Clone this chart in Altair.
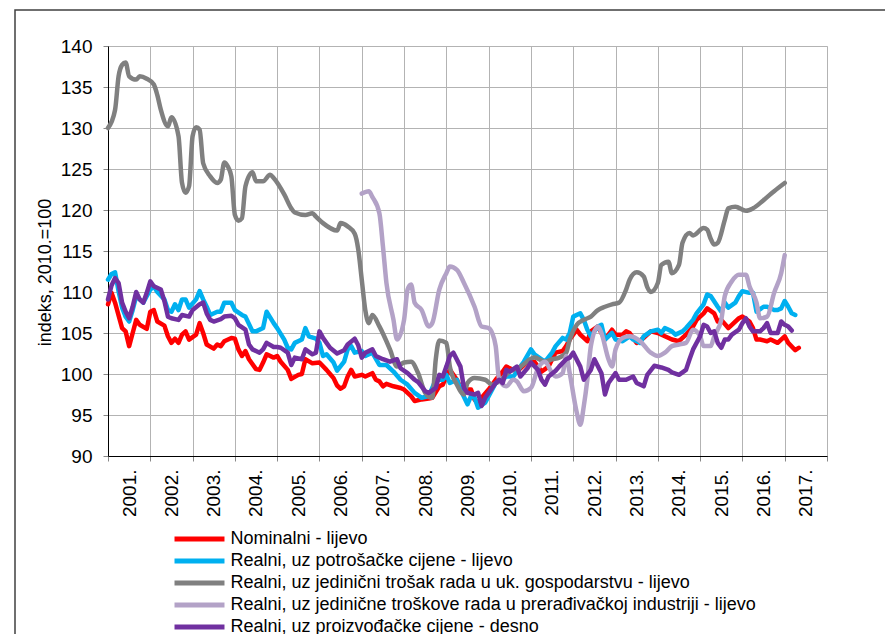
import altair as alt
import pandas as pd

NAMES = [
    "Nominalni - lijevo",
    "Realni, uz potrošačke cijene - lijevo",
    "Realni, uz jedinični trošak rada u uk. gospodarstvu - lijevo",
    "Realni, uz jedinične troškove rada u prerađivačkoj industriji - lijevo",
    "Realni, uz proizvođačke cijene - desno",
]
COLORS = ["#FF0000", "#00B0F0", "#808080", "#B3A2C7", "#7030A0"]
YEARS = list(range(2001, 2019))
Y_TICKS = list(range(90, 141, 5))

# month index 0 = Jan 2001
RED_M = [0, 1, 2, 4, 5, 6, 7, 8, 9, 11, 12, 13, 14, 16, 17, 18, 19, 20, 21, 22, 23, 25, 26, 27, 28, 30, 31, 32, 33, 35,
         36, 37, 38, 39, 40, 42, 43, 44, 45, 47, 48, 49, 51, 52, 54, 55, 56, 58, 60, 62, 63, 64, 65, 66, 67, 68, 69, 70,
         72, 73, 75, 76, 77, 78, 79, 81, 83, 84, 86, 87, 89, 91, 92, 94, 95, 96, 97, 99, 100, 102, 103, 104, 105, 106,
         108, 110, 112, 113, 114, 116, 118, 119, 121, 122, 123, 125, 126, 127, 129, 130, 131, 133, 134, 136, 137, 139,
         140, 141, 143, 144, 146, 147, 148, 150, 152, 154, 156, 158, 160, 162, 164, 166, 167, 169, 170, 172, 173, 174,
         176, 177, 179, 180, 182, 183, 184, 185, 187, 188, 190, 191, 192, 193, 195, 196]
RED_V = [108.5, 109.9, 108.7, 105.6, 105.2, 103.4, 105.0, 106.6, 106.0, 105.5, 107.6, 107.8, 106.4, 105.9, 104.6, 103.8,
         104.3, 103.8, 104.8, 105.2, 104.2, 104.8, 106.2, 105.0, 103.6, 103.1, 103.6, 103.4, 104.0, 104.4,
         104.3, 103.0, 102.2, 102.8, 101.8, 100.6, 100.5, 101.4, 102.4, 102.0, 102.2, 101.5, 100.5, 99.4, 99.9, 100.0,
         101.8, 101.3, 101.4, 100.5, 100.0, 99.5, 98.6, 98.2, 98.5, 99.7, 100.5, 99.7,
         99.9, 99.7, 100.1, 99.3, 99.1, 98.5, 98.8, 98.5, 98.3, 98.1, 97.3, 96.7, 96.9, 97.0, 97.1, 98.5, 98.7, 99.7,
         100.5, 99.3, 98.3, 98.1, 98.1, 96.9, 96.4, 97.1,
         98.1, 99.3, 100.3, 100.9, 100.7, 100.3, 101.1, 101.5, 101.5, 100.9, 100.3, 100.9, 101.8, 102.6, 102.8, 103.4,
         104.2, 105.4, 104.8, 104.0, 105.2, 105.8,
         105.0, 104.2, 105.4, 104.8, 104.8, 105.2, 105.0, 103.8, 104.4, 105.2, 105.0, 104.6, 104.2, 104.0, 104.8, 105.8,
         106.6, 107.4, 108.0, 107.4, 106.4, 106.6,
         105.6, 106.0, 106.8, 107.0, 106.4, 105.6, 104.2, 104.2, 104.0, 104.2, 103.8, 104.2, 104.6, 103.8, 102.9, 103.2]

CYAN_M = [0, 1, 2, 3, 4, 5, 6, 7, 8, 9, 10, 12, 13, 14, 16, 17, 18, 19, 20, 21, 22, 23, 25, 26, 27, 28, 29, 31, 32, 33,
          35, 36, 38, 39, 41, 42, 44, 45, 47, 48, 50, 51, 52, 53, 55, 56, 57, 59, 60, 61, 62, 64, 65, 67, 68, 69, 70,
          72, 73, 75, 77, 79, 81, 83, 85, 87, 89, 91, 93, 95, 96, 97, 99, 100, 102, 103, 104, 105, 107, 108, 110, 112,
          113, 115, 117, 118, 120, 121, 123, 124, 126, 127, 129, 130, 131, 132, 134, 135, 136, 137, 139, 140, 141, 143,
          144, 146, 148, 149, 151, 152, 154, 156, 157, 158, 160, 161, 163, 164, 166, 167, 169, 170, 171, 173, 174, 175,
          176, 178, 179, 180, 182, 183, 184, 186, 187, 189, 190, 191, 192, 193, 194, 195]
CYAN_V = [111.5, 112.2, 112.4, 110.1, 108.1, 107.0, 106.4, 107.8, 109.5, 109.1, 108.7, 110.3, 110.7, 110.0, 109.1,
          107.8, 107.6, 108.5, 107.8, 109.1, 109.1, 108.1, 109.1, 110.1, 109.1, 108.2, 107.2, 107.6, 107.6, 108.7,
          108.7, 107.8, 107.2, 107.0, 105.2, 105.2, 105.6, 107.6, 106.2, 105.6, 104.2, 103.2, 103.0, 103.8, 104.2,
          105.6, 104.6, 104.3, 103.8, 102.2, 102.4, 101.4, 100.4, 101.5, 103.0, 103.4, 102.6,
          102.8, 102.2, 102.6, 101.1, 101.1, 100.3, 99.3, 98.7, 97.7, 97.1, 97.3, 99.3, 99.3, 99.9, 98.9, 99.3, 98.1,
          96.3, 97.3, 97.1, 95.9, 96.5, 97.3, 98.9, 99.3,
          99.7, 99.7, 100.9, 101.5, 103.0, 102.4, 101.8, 101.5, 102.6, 103.4, 104.4, 104.2, 105.0, 107.0, 107.4,
          106.6, 105.4, 104.6, 105.8, 106.0, 104.2, 105.0,
          104.2, 104.0, 104.6, 104.2, 103.8, 104.6, 105.2, 105.4, 105.0, 105.6, 105.2, 104.8, 105.2, 105.6, 106.6,
          107.4, 108.5, 109.7, 109.5, 108.2, 107.6, 108.7,
          108.1, 108.7, 109.5, 110.1, 109.9, 109.9, 107.6, 108.2, 108.2, 107.8, 107.8, 108.0, 108.9, 108.2, 107.4, 107.2]

GRAY_M = [0, 2, 3, 4, 5, 6, 8, 9, 11, 13, 14, 15, 17, 18, 20, 21, 22, 23, 24, 25, 26, 27, 29, 31, 32, 33, 34, 35, 36,
          37, 38, 39, 41, 42, 44, 46, 47, 50, 52, 53, 56, 58, 59, 61, 65, 66, 68, 70, 71, 72, 73, 74, 75, 77, 80, 82,
          84, 86, 88, 90, 92, 93, 94, 96, 97, 99, 101, 102, 104, 107, 109, 112, 114, 117, 121, 124, 126, 128, 130, 131,
          133, 135, 137, 139, 141, 143, 145, 147, 148, 150, 152, 153, 154, 156, 157, 159, 160, 162, 163, 165, 166,
          169, 170, 171, 172, 173, 175, 176, 178, 181, 183, 186, 189, 192]
GRAY_V = [130.0, 132.2, 136.3, 137.7, 138.0, 136.3, 135.9, 136.3, 136.0, 135.3, 134.0, 132.2, 130.2, 131.3, 129.0,
          123.3, 122.1, 122.9, 129.0, 130.1, 129.8, 125.7, 124.1, 123.3, 123.7, 125.8, 125.3, 124.1, 119.4,
          118.7, 119.0, 122.9, 124.6, 123.5, 123.5, 124.3, 123.9, 121.9, 120.2, 119.7, 119.4, 119.6, 119.2, 118.4,
          117.5, 118.4, 118.0, 117.1, 115.2, 111.5, 107.8, 106.2, 107.2, 105.8, 103.0, 100.9,
          101.4, 101.5, 100.1, 97.7, 97.1, 101.8, 104.1, 103.8, 100.9, 98.7, 97.5, 98.9, 99.5, 99.3, 98.7, 99.5,
          100.3, 100.9, 102.0, 101.5, 101.8, 102.0, 102.6, 104.2,
          106.0, 106.6, 107.0, 107.8, 108.2, 108.5, 108.7, 110.3, 111.5, 112.4, 111.9, 110.6, 110.0, 111.1, 113.3,
          113.7, 112.3, 113.3, 116.0, 117.2, 116.9,
          117.8, 117.6, 116.5, 115.8, 116.0, 118.8, 120.2, 120.4, 119.9, 120.2, 121.2, 122.3, 123.3]

LAV_M = [72, 74, 75, 77, 78, 79, 81, 82, 84, 85, 86, 87, 89, 91, 92, 94, 96, 97, 99, 101, 104, 106, 108, 109, 110, 111,
         113, 115, 116, 118, 120, 122, 124, 126, 127, 129, 130, 131, 133, 134, 135, 136, 137, 139, 140, 142, 143, 144,
         146, 148, 151, 154, 156, 158, 160, 162, 164, 166, 168, 169, 171, 172, 174, 175, 177, 179, 181, 182, 184, 185,
         187, 189, 191, 192]
LAV_V = [122.0, 122.3, 121.6, 119.6, 115.6, 111.1, 106.6, 104.2, 106.6, 110.3, 110.9, 108.7, 107.8, 105.8, 106.2,
         110.3, 112.3, 113.1, 112.7, 111.1, 108.2, 105.8, 105.6, 105.0, 103.4, 99.3,
         98.5, 99.3, 99.1, 97.9, 98.3, 100.7, 101.5, 100.1, 99.7, 100.1, 102.2, 100.1, 95.3, 93.8, 96.1, 99.3, 103.4,
         105.8, 105.0, 101.8, 100.9, 103.0,
         104.4, 104.6, 104.0, 102.6, 102.2, 102.6, 103.4, 103.6, 103.8, 105.4, 104.6, 103.4, 103.4, 104.6, 106.6,
         109.5, 111.3, 112.1, 112.1, 110.7, 108.7, 106.8,
         107.0, 109.9, 112.3, 114.5]

PUR_M = [0, 1, 2, 3, 4, 5, 6, 7, 8, 9, 10, 11, 12, 13, 15, 16, 17, 18, 20, 21, 23, 24, 26, 27, 28, 29, 30, 32, 33, 35,
         36, 37, 39, 40, 41, 43, 44, 45, 47, 48, 49, 51, 52, 53, 55, 56, 58, 59, 60, 61, 62, 63, 65, 67, 68, 70, 71,
         72, 73, 75, 76, 78, 80, 82, 83, 85, 87, 88, 90, 91, 93, 94, 95, 96, 97, 98, 100, 101, 102, 104, 105, 106, 107,
         108, 110, 111, 112, 113, 114, 116, 117, 119, 120, 122, 123, 124, 125, 127, 128, 130, 131, 132, 134, 135, 137,
         138, 140, 141, 142, 144, 145, 147, 149, 150, 152, 153, 155, 157, 159, 160, 162, 164, 165, 166, 168, 169, 170,
         171, 172, 173, 174, 175, 176, 177, 179, 180, 181, 182, 183, 185, 186, 187, 188, 190, 191, 192, 193, 194]
PUR_V = [109.1, 110.8, 111.7, 111.1, 108.7, 107.6, 106.8, 108.2, 110.0, 109.1, 108.7, 109.9, 111.3, 110.7, 110.3,
         108.9, 107.0, 106.8, 106.6, 107.2, 107.0, 107.8, 108.5, 108.7, 107.4, 106.6, 106.4, 106.7, 107.0, 107.1,
         106.8, 106.0, 105.4, 103.6, 103.0, 102.6, 103.0, 103.8, 103.3, 103.3, 103.2, 102.6, 101.1, 102.0, 101.8,
         103.0, 102.4, 102.6, 105.2, 104.4, 103.8, 103.2, 102.5, 102.9, 103.6, 104.3, 103.5,
         102.0, 102.6, 103.0, 102.2, 101.8, 101.5, 101.8, 100.7, 100.1, 99.3, 99.0, 97.9, 97.7, 98.3, 99.9, 99.7,
         100.9, 102.2, 102.6, 100.9, 98.3, 97.7, 97.5, 97.7, 96.1, 97.1,
         97.7, 98.9, 99.3, 98.9, 100.5, 100.3, 100.9, 99.7, 100.7, 101.4, 100.5, 99.3, 98.7, 99.7, 100.4, 100.9,
         101.8, 102.0, 102.6, 100.9, 99.3, 100.5,
         101.8, 100.1, 97.5, 98.9, 100.1, 99.3, 99.3, 99.7, 98.9, 98.5, 99.9, 101.0, 100.8, 100.5, 100.2, 99.9,
         100.5, 101.8, 103.0, 104.6, 106.0, 105.8,
         105.0, 105.2, 103.8, 103.2, 104.2, 104.2, 104.8, 105.4, 106.2, 106.8, 105.8, 105.2, 105.2, 105.6, 106.2,
         105.0, 105.0, 106.4, 106.0, 105.8, 105.3]

SERIES = [(RED_M, RED_V), (CYAN_M, CYAN_V), (GRAY_M, GRAY_V), (LAV_M, LAV_V), (PUR_M, PUR_V)]
SMOOTH = [False, False, True, True, False]

rows = []
for name, (ms, vs) in zip(NAMES, SERIES):
    for m, v in zip(ms, vs):
        rows.append({"serija": name, "t": 2001 + m / 12.0, "v": v})
df = pd.DataFrame(rows)

FONT = "Liberation Sans"

x_enc = alt.X(
    "t:Q",
    scale=alt.Scale(domain=[2001, 2018], nice=False, zero=False),
    axis=alt.Axis(
        values=YEARS,
        labelExpr="datum.value < 2018 ? datum.value + '.' : ''",
        labelAngle=270,
        labelOffset=21,
        labelFlush=False,
        labelOverlap=False,
        labelFont=FONT,
        labelFontSize=19,
        labelColor="black",
        labelPadding=8,
        tickSize=5,
        tickColor="#888888",
        domainColor="black",
        gridColor="#b3b3b3",
        title=None,
    ),
)
y_enc = alt.Y(
    "v:Q",
    scale=alt.Scale(domain=[90, 140], nice=False, zero=False),
    axis=alt.Axis(
        values=Y_TICKS,
        labelFont=FONT,
        labelFontSize=19,
        labelColor="black",
        labelPadding=11,
        tickSize=5,
        tickColor="#888888",
        domainColor="black",
        gridColor="#b3b3b3",
        title="indeks, 2010.=100",
        titleFont=FONT,
        titleFontSize=18,
        titleFontWeight="normal",
        titleColor="black",
        titleAngle=270,
        titleAlign="center",
        titleBaseline="middle",
        titleX=-63,
        titleY=226,
    ),
)
color_enc = alt.Color(
    "serija:N",
    scale=alt.Scale(domain=NAMES, range=COLORS),
    legend=alt.Legend(
        title=None,
        orient="none",
        legendX=80.5,
        legendY=482,
        direction="vertical",
        symbolType="M-2.94,0H2.94",
        symbolSize=289,
        symbolStrokeWidth=5,
        labelFont=FONT,
        labelFontSize=18,
        labelColor="black",
        labelOffset=20,
        labelLimit=0,
        rowPadding=1,
        padding=0,
    ),
)

layers = []
frame = alt.Chart(pd.DataFrame({"k": [0]})).mark_rect(
    fill="white", fillOpacity=0, stroke="#404040", strokeWidth=1.5
).encode(x=alt.value(-93), x2=alt.value(800), y=alt.value(-36), y2=alt.value(700))
layers.append(frame)

for name, smooth in zip(NAMES, SMOOTH):
    layer = alt.Chart(df).transform_filter(
        alt.datum.serija == name
    ).mark_line(
        strokeWidth=4.5, strokeCap="round", strokeJoin="round",
        interpolate="monotone" if smooth else "linear",
    ).encode(x=x_enc, y=y_enc, color=color_enc, order="t:Q")
    layers.append(layer)

chart = alt.layer(*layers).properties(
    width=719,
    height=410,
    autosize=alt.AutoSizeParams(type="none"),
    padding={"left": 100, "top": 38, "right": 58, "bottom": 178},
).configure_view(stroke=None).configure(background="white")

chart.save("out.html", embed_options={"renderer": "svg", "actions": False})
